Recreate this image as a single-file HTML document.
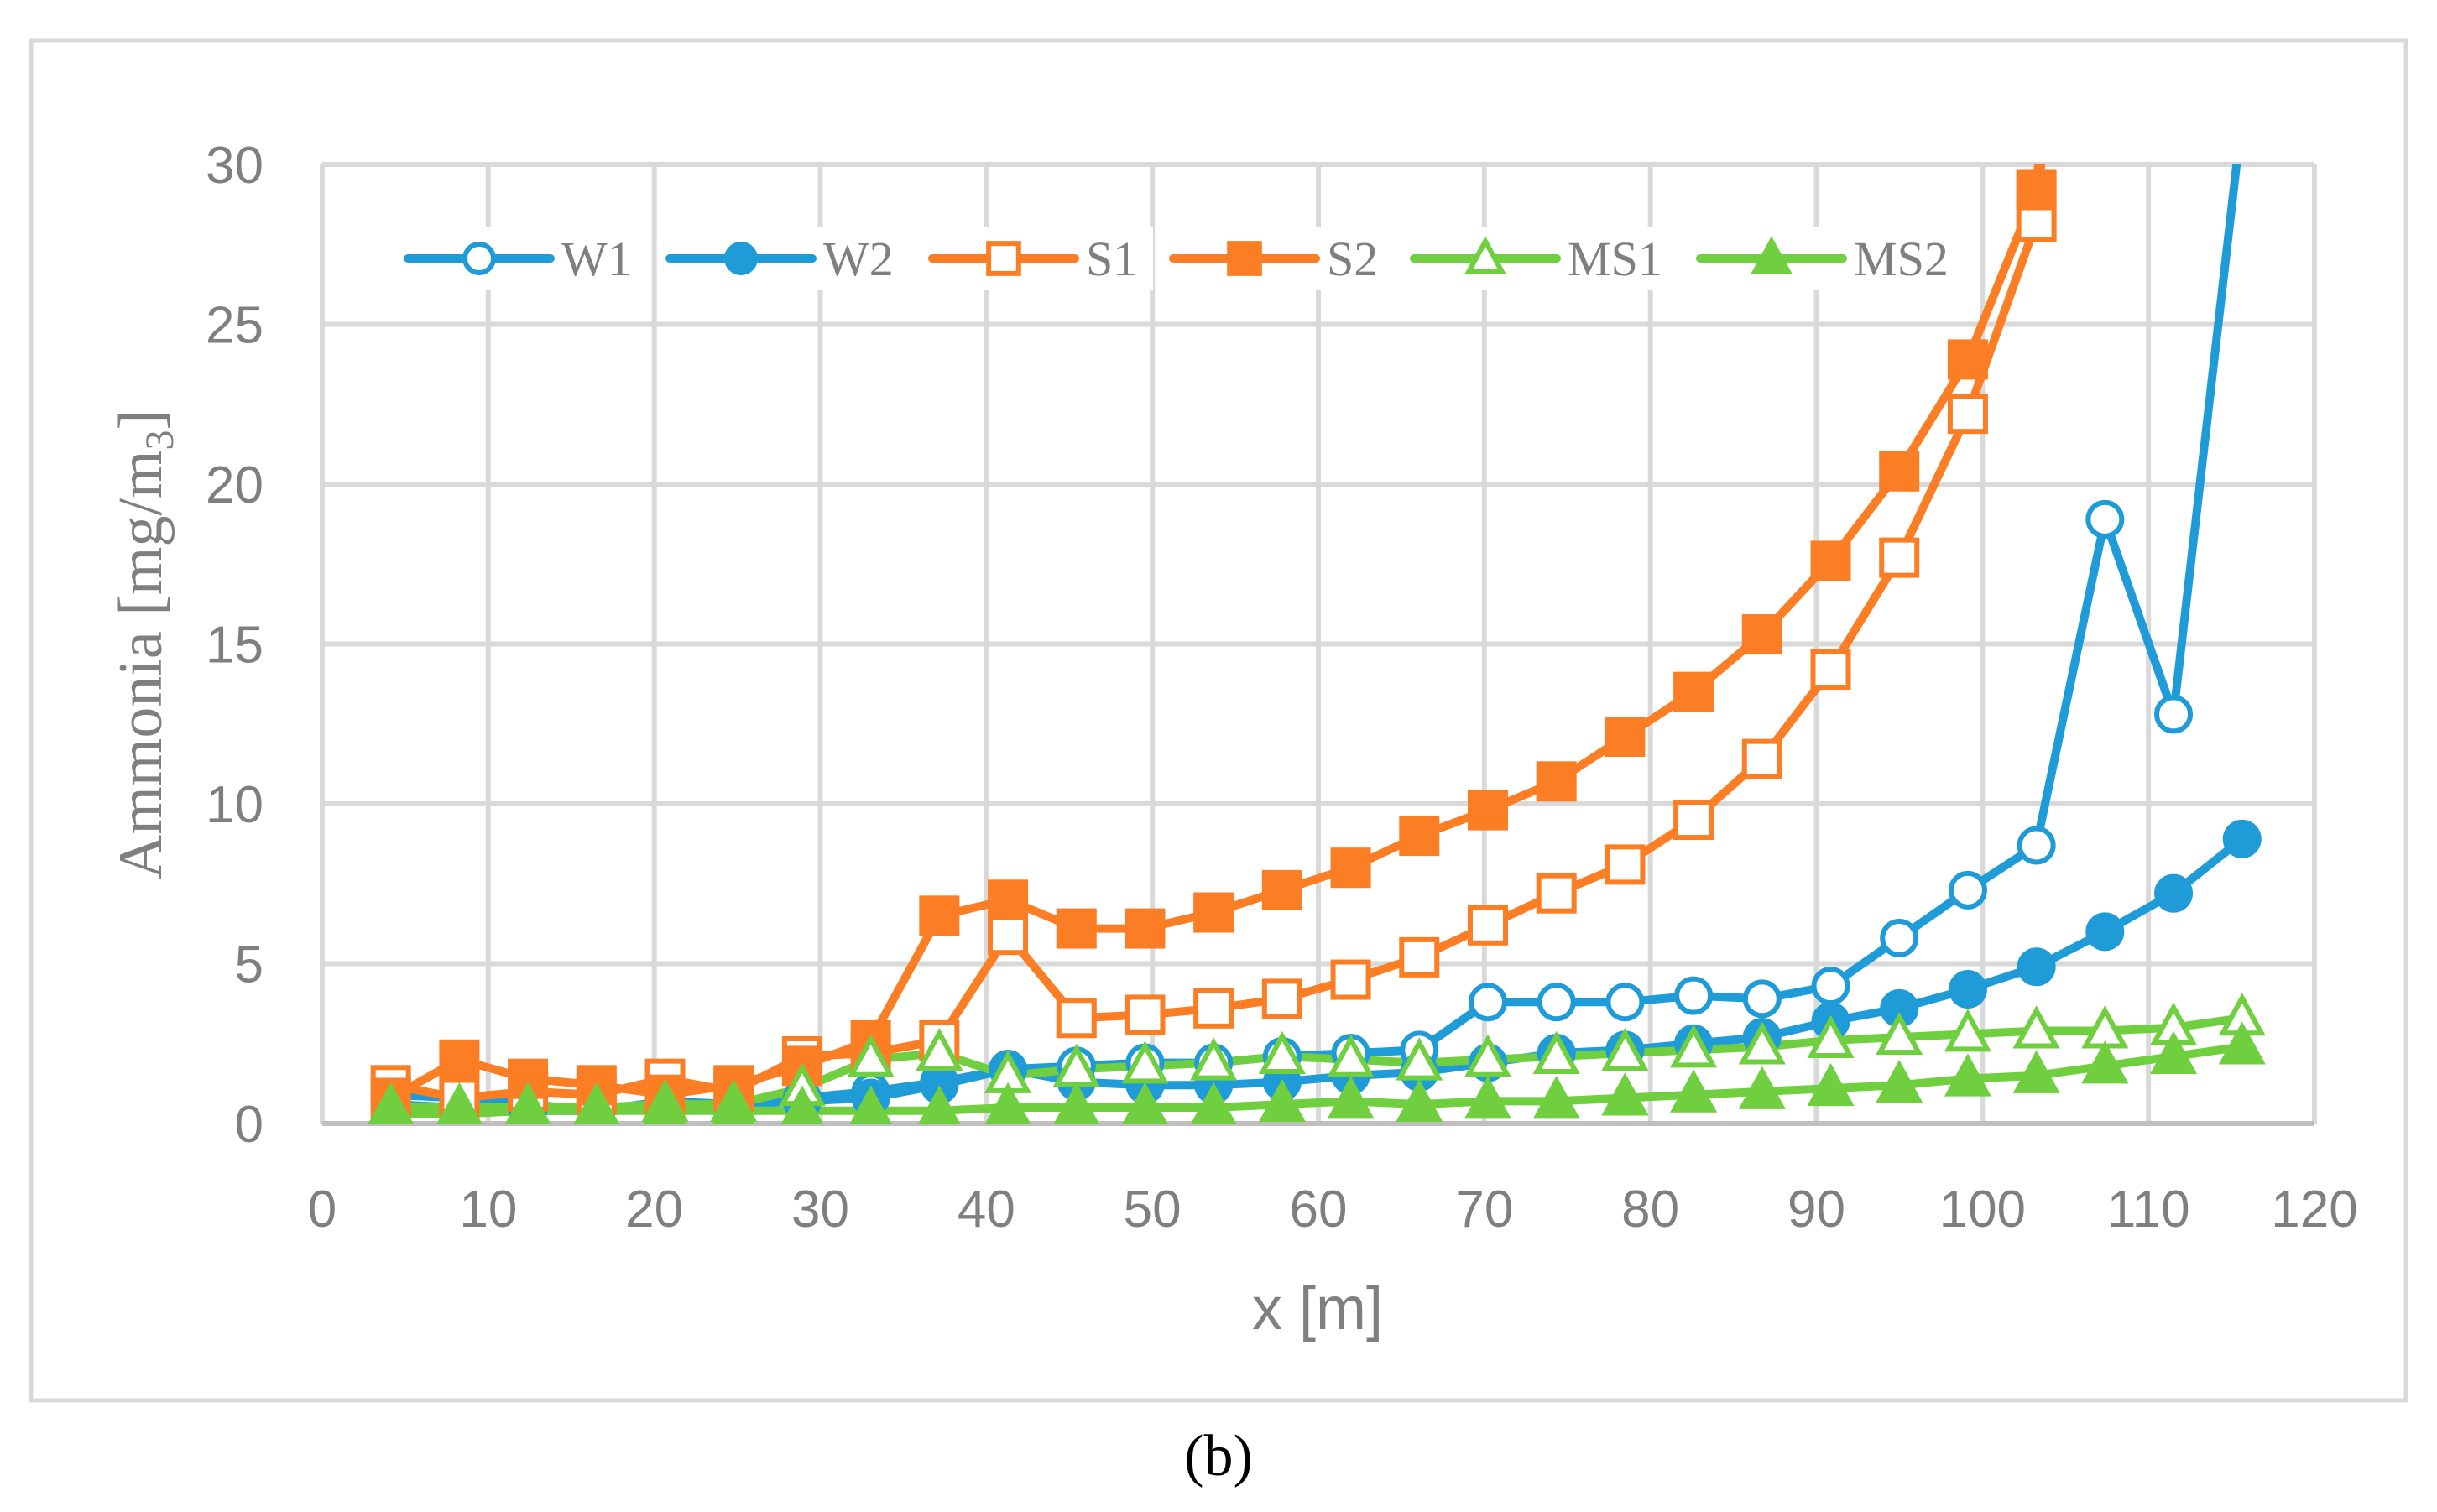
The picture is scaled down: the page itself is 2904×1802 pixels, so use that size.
<!DOCTYPE html>
<html><head><meta charset="utf-8"><style>
html,body{margin:0;padding:0;background:#fff;}
svg{display:block;}
.sans{font-family:"Liberation Sans",sans-serif;}
.serif{font-family:"Liberation Serif",serif;}
</style></head><body>
<svg id="chart" width="2904" height="1802" viewBox="0 0 2904 1802" xmlns="http://www.w3.org/2000/svg">
<rect x="37" y="48" width="2830" height="1621" fill="#fff" stroke="#d9d9d9" stroke-width="5"/>
<g id="grid"></g>
<g id="axes"></g>
<defs><clipPath id="plotclip"><rect x="384" y="196" width="2374" height="1143"/></clipPath></defs>
<g id="series" clip-path="url(#plotclip)"></g>
<g id="markers" clip-path="url(#plotclip)"></g>
<g id="legend"></g>
<text style="font-family:'Liberation Serif',serif" transform="translate(192,768) rotate(-90)" text-anchor="middle" font-size="74" fill="#7f7f7f">Ammonia [mg/m<tspan font-size="48" dy="14">3</tspan><tspan dy="-14">]</tspan></text>
<text class="sans" x="1570" y="1584" text-anchor="middle" font-size="72" fill="#7f7f7f">x [m]</text>
<text class="serif" x="1452" y="1758" text-anchor="middle" font-size="70" fill="#000">(b)</text>
</svg>
<script>
const xTicks = [0,10,20,30,40,50,60,70,80,90,100,110,120];
const yTicks = [0,5,10,15,20,25,30];
const xVals = [4.13,8.26,12.39,16.52,20.65,24.78,28.91,33.04,37.17,41.3,45.43,49.56,53.69,57.82,61.95,66.08,70.21,74.34,78.47,82.6,86.73,90.86,94.99,99.12,103.25,107.38,111.51,115.64];
const W1 = [0.9,0.8,0.6,0.4,0.7,0.6,0.8,1.0,1.3,1.7,1.8,1.9,1.9,2.1,2.2,2.3,3.8,3.8,3.8,4.0,3.9,4.3,5.8,7.3,8.7,18.9,12.8,31.5];
const W2 = [0.6,0.5,0.4,0.4,0.5,0.6,0.7,0.8,1.2,1.7,1.3,1.2,1.2,1.3,1.5,1.6,1.9,2.2,2.3,2.5,2.7,3.2,3.6,4.2,4.9,6.0,7.2,8.9];
const S1 = [1.2,0.8,1.0,0.9,1.4,1.0,2.1,2.2,2.6,5.9,3.3,3.4,3.6,3.9,4.5,5.2,6.2,7.2,8.1,9.5,11.4,14.2,17.7,22.2,28.2,55];
const S2 = [0.8,2.0,1.4,1.2,0.9,1.2,1.8,2.6,6.5,7.0,6.1,6.1,6.6,7.3,8.0,9.0,9.8,10.7,12.1,13.5,15.3,17.6,20.4,23.9,29.2,58];
const MS1 = [0.5,0.5,0.5,0.5,0.6,0.6,1.1,2.0,2.2,1.5,1.7,1.8,1.9,2.1,2.0,1.9,2.0,2.1,2.2,2.3,2.4,2.6,2.7,2.8,2.9,2.9,3.0,3.3];
const MS2 = [0.3,0.3,0.4,0.4,0.4,0.4,0.4,0.4,0.4,0.5,0.5,0.5,0.5,0.6,0.7,0.6,0.7,0.7,0.8,0.9,1.0,1.1,1.2,1.4,1.5,1.8,2.1,2.4];

const L=384,R=2758,T=196,B=1339;
const xs = v => L + (v-0)/(120-0)*(R-L);
const ys = v => B - (v-0)/(30-0)*(B-T);
const NS='http://www.w3.org/2000/svg';
function mk(tag, attrs, parent){const e=document.createElementNS(NS,tag);for(const k in attrs)e.setAttribute(k,attrs[k]);parent.appendChild(e);return e;}
const grid=document.getElementById('grid'), axes=document.getElementById('axes');
xTicks.forEach(t=>{
  const g=mk('line',{x1:xs(t),x2:xs(t),y1:T,y2:B,stroke:'#d9d9d9','stroke-width':6},grid);
  
  
  const tx=mk('text',{x:xs(t),y:1462,'text-anchor':'middle','class':'sans','font-size':62,fill:'#7f7f7f'},axes);
  tx.textContent=t;
  
  
});
yTicks.forEach(t=>{
  const g=mk('line',{x1:L,x2:R,y1:ys(t),y2:ys(t),stroke:t===0?'#bfbfbf':'#d9d9d9','stroke-width':6},grid);
  
  
  const tx=mk('text',{x:314,y:ys(t)+22,'text-anchor':'end','class':'sans','font-size':62,fill:'#7f7f7f'},axes);
  tx.textContent=t;
  
  
});
const blue='#1f9bd8', orange='#fb7d24', green='#6fcf3f';
const defs=[
 {name:'W1',data:W1,color:blue,m:'circle',fill:false},
 {name:'W2',data:W2,color:blue,m:'circle',fill:true},
 {name:'S1',data:S1,color:orange,m:'square',fill:false},
 {name:'S2',data:S2,color:orange,m:'square',fill:true},
 {name:'MS1',data:MS1,color:green,m:'tri',fill:false},
 {name:'MS2',data:MS2,color:green,m:'tri',fill:true}];
function marker(type,x,y,color,fill,parent,size){
  const s=size||1;
  let e;
  const sw=6;
  if(type==='circle') e=mk('circle',{cx:x,cy:y,r:20*s,fill:fill?color:'#fff',stroke:color,'stroke-width':sw},parent);
  else if(type==='square') e=mk('rect',{x:x-21*s,y:y-21*s,width:42*s,height:42*s,fill:fill?color:'#fff',stroke:color,'stroke-width':sw},parent);
  else e=mk('polygon',{points:`${x},${y-24*s} ${x+23*s},${y+18*s} ${x-23*s},${y+18*s}`,fill:fill?color:'#fff',stroke:color,'stroke-width':sw},parent);
  return e;
}
const sg=document.getElementById('series'), mg=document.getElementById('markers');
defs.forEach(s=>{
  const pts=s.data.map((v,i)=>xs(xVals[i])+','+ys(v)).join(' ');
  const p=mk('polyline',{points:pts,fill:'none',stroke:s.color,'stroke-width':10,'stroke-linejoin':'round'},sg);
  
  
});
defs.forEach(s=>{
  s.data.forEach((v,i)=>{
    const e=marker(s.m,xs(xVals[i]),ys(v),s.color,s.fill,mg);
    
    
  });
});
const lg=document.getElementById('legend');
const lx=[486,798,1111,1398,1685,2026];
defs.forEach((s,i)=>{
  const g=mk('g',{},lg);
  
  
  mk('rect',{x:lx[i]-14,y:270,width:(i<5?lx[i+1]-lx[i]-10:300),height:76,fill:'#fff'},g);
  mk('line',{x1:lx[i],x2:lx[i]+170,y1:308,y2:308,stroke:s.color,'stroke-width':10,'stroke-linecap':'round'},g);
  marker(s.m,lx[i]+85,308,s.color,s.fill,g,0.85);
  const t=mk('text',{x:lx[i]+183,y:328,'class':'serif','font-size':58,fill:'#7f7f7f'},g);
  t.textContent=s.name;
});
</script>
</body></html>
